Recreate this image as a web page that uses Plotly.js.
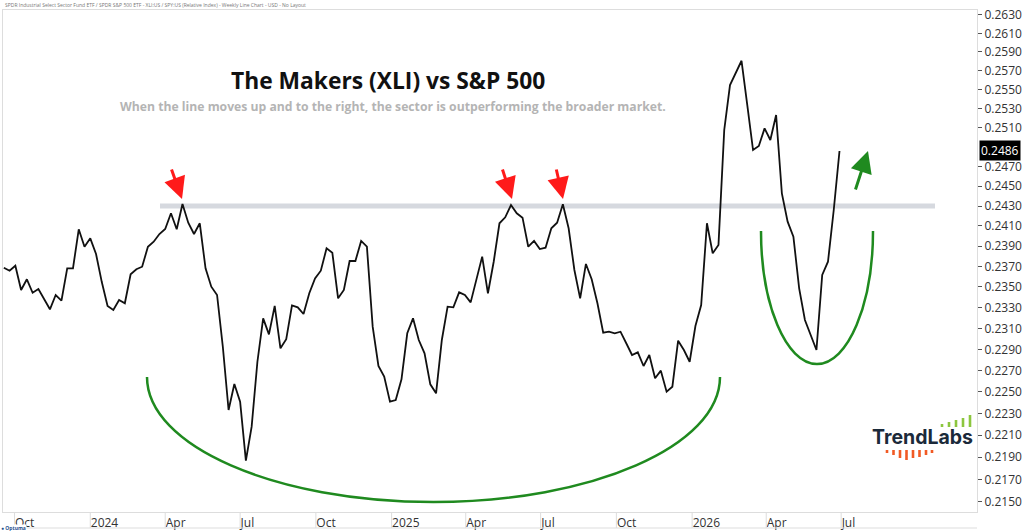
<!DOCTYPE html>
<html><head><meta charset="utf-8">
<script src="https://cdn.plot.ly/plotly-3.0.1.min.js"></script>
<style>html,body{margin:0;padding:0;background:#fff;} #chart{width:1024px;height:532px;}</style>
</head><body><div id="chart"></div>
<script>
// ---------------- DATA ----------------
const firstWeek = '2023-09-18';
const weekMs = 7 * 24 * 3600 * 1000;
// XLI / SPY relative index, weekly closes
const ratioValues = [
0.23687,0.23658,0.23707,0.23470,0.23574,0.23443,0.23479,0.23382,0.23283,0.23421,
0.23366,0.23681,0.23681,0.24067,0.23894,0.23977,0.23822,0.23547,0.23315,0.23276,
0.23373,0.23341,0.23623,0.23672,0.23697,0.23894,0.23944,0.24020,0.24070,0.24227,
0.24067,0.24320,0.24133,0.24020,0.24127,0.23681,0.23502,0.23421,0.22925,0.22332,
0.22574,0.22410,0.21869,0.22179,0.22783,0.23196,0.23043,0.23315,0.22910,0.22996,
0.23321,0.23302,0.23238,0.23438,0.23583,0.23658,0.23878,0.23835,0.23389,0.23470,
0.23753,0.23753,0.23951,0.23894,0.23116,0.22743,0.22643,0.22410,0.22425,0.22618,
0.23053,0.23196,0.22989,0.22863,0.22571,0.22487,0.22989,0.23308,0.23302,0.23447,
0.23421,0.23350,0.23567,0.23796,0.23438,0.23746,0.24127,0.24187,0.24310,0.24227,
0.24183,0.23894,0.23951,0.23871,0.23884,0.24077,0.24133,0.24317,0.24077,0.23665,
0.23389,0.23724,0.23574,0.23341,0.23058,0.23068,0.23053,0.23068,0.22958,0.22847,
0.22872,0.22743,0.22847,0.22627,0.22699,0.22502,0.22549,0.22982,0.22894,0.22783,
0.23122,0.23324,0.24127,0.23829,0.23911,0.25077,0.25548,0.25672,0.25806,0.25337,
0.24870,0.24911,0.25094,0.24973,0.25233,0.24428,0.24143,0.23993,0.23486,0.23180,
0.23037,0.22894,0.23616,0.23746,0.24260,0.2486
];
const xTickDates = ['2023-10-01','2024-01-01','2024-04-01','2024-07-01','2024-10-01','2025-01-01',
                    '2025-04-01','2025-07-01','2025-10-01','2026-01-01','2026-04-01','2026-07-01'];
const xTickLabels = ['Oct','2024','Apr','Jul','Oct','2025','Apr','Jul','Oct','2026','Apr','Jul'];
// 0.2490 sits under the last-value box in the reference, so it is not listed
const yTickValues = [0.2150,0.2170,0.2190,0.2210,0.2230,0.2250,0.2270,0.2290,0.2310,0.2330,0.2350,
                     0.2370,0.2390,0.2410,0.2430,0.2450,0.2470,0.2510,0.2530,0.2550,0.2570,
                     0.2590,0.2610,0.2630];
const resistanceLevel = 0.2430;
const chartTitle = 'The Makers (XLI) vs S&P 500';
const chartSubtitle = 'When the line moves up and to the right, the sector is outperforming the broader market.';
const headerText = 'SPDR Industrial Select Sector Fund ETF / SPDR S&P 500 ETF - XLI:US / SPY:US (Relative Index) - Weekly Line Chart - USD - No Layout';
const logoText = 'TrendLabs';

// ---------------- LAYOUT HELPERS (pixel -> paper) ----------------
const L = 3, T = 10, W = 974, H = 502;
const px = x => (x - L) / W;
const py = y => (T + H - y) / H;
function lowerArc(cx, topY, a, b) {
  const k = 0.5523;
  const x0 = px(cx - a), x1 = px(cx + a), xc = px(cx);
  const dxk = a * k / W, dyk = b * k / H;
  const yt = py(topY), yb = py(topY + b);
  return `M ${x0},${yt} C ${x0},${yt - dyk} ${xc - dxk},${yb} ${xc},${yb} C ${xc + dxk},${yb} ${x1},${yt - dyk} ${x1},${yt}`;
}
const green = '#1f8a1f';
const red = '#ff1a1a';
const font = 'Open Sans, Noto Sans, sans-serif';

const lastValue = ratioValues[ratioValues.length - 1];

const shapes = [
  // resistance band
  {type:'line', xref:'paper', yref:'y', x0:px(160), x1:px(935), y0:resistanceLevel, y1:resistanceLevel,
   line:{color:'#d6d9df', width:5}, layer:'below'},
  // rounding-bottom arcs
  {type:'path', xref:'paper', yref:'paper', path:lowerArc(433.5, 377, 286.5, 125), line:{color:green, width:2.5}},
  {type:'path', xref:'paper', yref:'paper', path:lowerArc(817, 231, 56, 133), line:{color:green, width:2.5}},
  // bottom border of the date strip
  {type:'line', xref:'paper', yref:'paper', x0:0, x1:1, y0:py(528), y1:py(528), line:{color:'#dddddd', width:1}},
];
// separators in the date strip at each tick
xTickDates.forEach(d => shapes.push({type:'line', xref:'x', yref:'paper', x0:d, x1:d, y0:0, y1:py(528),
  line:{color:'#dddddd', width:1}}));
// logo bars
const greenBars = [[942,424],[949,422],[956,420],[963,418],[970,415]];
greenBars.forEach(([x,top]) => shapes.push({type:'rect', xref:'paper', yref:'paper', x0:px(x-1.3), x1:px(x+1.3),
  y0:py(427), y1:py(top), fillcolor:'#8cc63f', line:{width:0}}));
const orangeBars = [[887,453],[893.5,455],[900,458],[906.5,460],[913,458],[919.5,457],[926,455],[932,453]];
orangeBars.forEach(([x,bot]) => shapes.push({type:'rect', xref:'paper', yref:'paper', x0:px(x-1.3), x1:px(x+1.3),
  y0:py(450), y1:py(bot), fillcolor:'#f15a24', line:{width:0}}));

const arrow = (tipX, tipY, ax, ay, color) => ({xref:'paper', yref:'paper', x:px(tipX), y:py(tipY), ax:ax, ay:ay,
  axref:'pixel', ayref:'pixel', text:'', showarrow:true, arrowhead:2, arrowsize:1.45, arrowwidth:3, arrowcolor:color, standoff:0});

const annotations = [
  {xref:'paper', yref:'paper', x:px(387.5), y:py(80), text:'<b>'+chartTitle+'</b>', showarrow:false,
   font:{family:font, size:22.8, color:'#111'}, xanchor:'center', yanchor:'middle'},
  {xref:'paper', yref:'paper', x:px(393), y:py(106), text:'<b>'+chartSubtitle+'</b>', showarrow:false,
   font:{family:font, size:12.2, color:'#b4b4b4'}, xanchor:'center', yanchor:'middle'},
  {xref:'paper', yref:'paper', x:0, y:py(5), text:headerText, showarrow:false,
   font:{family:font, size:5, color:'#777'}, xanchor:'left', yanchor:'middle'},
  arrow(182, 199, -11, -31, red),
  arrow(512, 199, -10, -31, red),
  arrow(563, 199, -7, -31, red),
  arrow(868, 151, -13, 40, green),
  {xref:'paper', yref:'y', x:1, y:Math.log10(lastValue), text:lastValue.toFixed(4), showarrow:false,
   xanchor:'left', yanchor:'middle', xshift:2, bgcolor:'#000', borderpad:1,
   font:{family:font, size:12, color:'#fff'}},
  {xref:'paper', yref:'paper', x:px(922), y:py(437), text:'<b>'+logoText+'</b>', showarrow:false,
   font:{family:'Inter, Lato, sans-serif', size:19.5, color:'#1b2a3a'}, xanchor:'center', yanchor:'middle'},
  // small Optuma badge in the bottom-left corner (white background, as in the reference)
  {xref:'paper', yref:'paper', x:px(0), y:py(532), text:'<b>● Optuma</b>', showarrow:false,
   font:{family:font, size:5, color:'#1f4e8c'}, xanchor:'left', yanchor:'bottom', borderpad:0, bgcolor:'#ffffff'},
];

const trace = {
  type:'scatter', mode:'lines', x0:firstWeek, dx:weekMs, y:ratioValues,
  line:{color:'#111', width:1.8}, hoverinfo:'skip'
};

const layout = {
  width:1024, height:532,
  margin:{l:L, r:1024 - L - W, t:T, b:532 - T - H, pad:0},
  paper_bgcolor:'#fff', plot_bgcolor:'#fff',
  showlegend:false,
  xaxis:{type:'date', range:['2023-09-17','2026-12-13'], tickmode:'array', tickvals:xTickDates, ticktext:xTickLabels,
    showgrid:false, zeroline:false, showline:true, linecolor:'#dddddd', mirror:true,
    ticks:'', ticklabelposition:'outside right',
    tickfont:{family:font, size:12, color:'#333'}},
  yaxis:{type:'log', side:'right', range:[Math.log10(0.21409), Math.log10(0.26354)],
    tickmode:'array', tickvals:yTickValues, tickformat:'.4f',
    showgrid:false, zeroline:false, showline:true, linecolor:'#dddddd', mirror:true,
    ticks:'outside', ticklen:4, tickcolor:'#555', tickwidth:1,
    tickfont:{family:font, size:12, color:'#333'}},
  shapes:shapes, annotations:annotations
};

Plotly.newPlot('chart', [trace], layout, {staticPlot:true, displayModeBar:false});
</script></body></html>
